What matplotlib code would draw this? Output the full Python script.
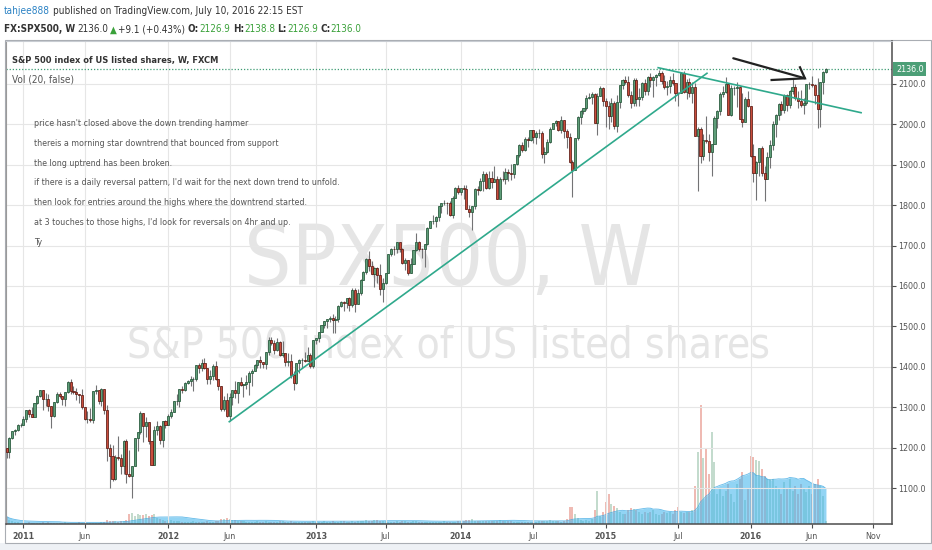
"""TradingView style weekly SPX500 chart: candles, volume, trend lines and notes."""

import numpy as np
import pandas as pd
import matplotlib
matplotlib.use('Agg')
import matplotlib.pyplot as plt
from matplotlib import font_manager
from matplotlib.patches import Rectangle

# ---------------------------------------------------------------------------
# Data: weekly bars of FX:SPX500 (FXCM), first bar = week ending 2010-11-26
# open of each bar = close of the previous bar
# ---------------------------------------------------------------------------
first_week = '2010-11-26'
first_open = 1199.7

closes_2010 = [1189.4, 1224.7, 1240.4, 1243.9, 1256.8, 1257.6]
highs_2010 = [1200, 1227, 1241, 1246, 1259, 1262]
lows_2010 = [1176, 1174, 1222, 1232, 1241, 1251]

closes_2011 = [1271.5, 1293.2, 1283.4, 1276.3, 1310.9, 1329.2, 1343.0, 1319.9, 1321.2, 1304.3,
               1279.2, 1313.8, 1332.4, 1328.2, 1319.7, 1337.4, 1363.6, 1340.2, 1337.8, 1333.3,
               1331.1, 1300.2, 1271.0, 1271.5, 1268.5, 1339.7, 1343.8, 1316.1, 1345.0, 1292.3,
               1199.4, 1178.8, 1123.5, 1176.8, 1174.0, 1154.2, 1216.0, 1136.4, 1131.4, 1155.5,
               1224.6, 1238.3, 1285.1, 1253.2, 1263.9, 1215.7, 1158.7, 1244.3, 1255.2, 1219.7,
               1265.3, 1257.6]
highs_2011 = [1278, 1294, 1297, 1302, 1311, 1330, 1344, 1342, 1336, 1332,
              1303, 1314, 1337, 1339, 1329, 1338, 1364, 1370, 1352, 1347,
              1334, 1346, 1302, 1292, 1298, 1341, 1356, 1343, 1347, 1345,
              1307, 1209, 1208, 1183, 1230, 1184, 1220, 1221, 1195, 1156,
              1225, 1238, 1292, 1285, 1277, 1264, 1215, 1255, 1267, 1256,
              1266, 1270]
lows_2011 = [1257, 1265, 1277, 1275, 1276, 1309, 1326, 1294, 1303, 1292,
             1249, 1277, 1312, 1322, 1306, 1303, 1336, 1332, 1333, 1318,
             1311, 1297, 1268, 1262, 1265, 1262, 1334, 1309, 1303, 1283,
             1168, 1101, 1117, 1121, 1170, 1136, 1136, 1114, 1127, 1075,
             1156, 1192, 1234, 1215, 1226, 1209, 1158, 1158, 1231, 1209,
             1202, 1248]

closes_2012 = [1277.8, 1289.1, 1315.4, 1316.3, 1344.9, 1342.6, 1361.2, 1365.7, 1369.6, 1370.9,
               1404.2, 1397.1, 1408.5, 1398.1, 1370.3, 1378.5, 1403.4, 1369.1, 1353.4, 1295.2,
               1317.8, 1278.0, 1325.7, 1342.8, 1335.0, 1362.2, 1354.7, 1356.8, 1362.7, 1386.0,
               1391.0, 1405.9, 1418.2, 1411.1, 1406.6, 1437.9, 1465.8, 1460.2, 1440.7, 1460.9,
               1428.6, 1433.2, 1411.9, 1414.2, 1379.9, 1359.9, 1409.2, 1416.2, 1418.1, 1413.6,
               1430.2, 1402.4]
highs_2012 = [1284, 1297, 1316, 1334, 1346, 1354, 1362, 1368, 1378, 1374,
              1405, 1409, 1419, 1422, 1398, 1392, 1406, 1415, 1369, 1354,
              1328, 1335, 1335, 1344, 1364, 1363, 1375, 1357, 1381, 1390,
              1394, 1407, 1418, 1426, 1413, 1438, 1475, 1474, 1467, 1471,
              1465, 1464, 1434, 1434, 1433, 1391, 1410, 1419, 1423, 1438,
              1448, 1434]
lows_2012 = [1259, 1274, 1290, 1307, 1300, 1335, 1341, 1358, 1354, 1340,
             1366, 1386, 1391, 1394, 1357, 1358, 1367, 1367, 1344, 1292,
             1291, 1277, 1267, 1307, 1324, 1310, 1352, 1325, 1346, 1330,
             1354, 1391, 1397, 1398, 1397, 1396, 1429, 1454, 1431, 1439,
             1426, 1425, 1403, 1403, 1373, 1343, 1359, 1385, 1398, 1411,
             1416, 1398]

closes_2013 = [1466.5, 1472.1, 1486.0, 1503.0, 1513.2, 1517.9, 1519.8, 1515.6, 1518.2, 1551.2,
               1560.7, 1556.9, 1569.2, 1553.3, 1588.9, 1555.3, 1582.2, 1614.4, 1633.7, 1667.5,
               1649.6, 1630.7, 1643.4, 1626.7, 1592.4, 1606.3, 1631.9, 1680.2, 1692.1, 1691.7,
               1709.7, 1691.4, 1655.8, 1663.5, 1633.0, 1655.2, 1688.0, 1709.9, 1691.8, 1690.5,
               1703.2, 1744.5, 1759.8, 1761.6, 1770.6, 1798.2, 1804.8, 1805.8, 1805.1, 1775.3,
               1818.3, 1841.4]
highs_2013 = [1467, 1472, 1486, 1503, 1514, 1518, 1525, 1531, 1526, 1553,
              1564, 1564, 1570, 1573, 1594, 1594, 1592, 1618, 1636, 1668,
              1687, 1661, 1647, 1646, 1654, 1620, 1633, 1680, 1693, 1698,
              1709, 1708, 1695, 1669, 1664, 1670, 1689, 1730, 1710, 1695,
              1704, 1745, 1760, 1775, 1772, 1798, 1805, 1813, 1808, 1811,
              1823, 1844]
lows_2013 = [1398, 1456, 1461, 1486, 1495, 1495, 1510, 1485, 1485, 1512,
             1548, 1538, 1546, 1539, 1548, 1536, 1555, 1577, 1614, 1630,
             1636, 1630, 1598, 1608, 1577, 1560, 1604, 1632, 1673, 1676,
             1682, 1684, 1654, 1640, 1627, 1633, 1656, 1687, 1687, 1670,
             1646, 1702, 1743, 1752, 1746, 1760, 1780, 1800, 1779, 1772,
             1767, 1818]

closes_2014 = [1831.4, 1842.4, 1838.7, 1790.3, 1782.6, 1797.0, 1838.6, 1836.3, 1859.5, 1878.0,
               1841.1, 1866.5, 1857.6, 1865.1, 1815.7, 1864.9, 1863.4, 1881.1, 1878.5, 1877.9,
               1900.5, 1923.6, 1949.4, 1936.2, 1962.9, 1961.0, 1985.4, 1967.6, 1978.2, 1978.3,
               1925.2, 1931.6, 1955.1, 1988.4, 2003.4, 2007.7, 1985.5, 2010.4, 1982.9, 1967.9,
               1906.1, 1886.8, 1964.6, 2018.1, 2031.9, 2039.8, 2063.5, 2067.6, 2075.4, 2002.3,
               2070.7, 2088.8]
highs_2014 = [1849, 1843, 1850, 1850, 1799, 1798, 1841, 1847, 1868, 1883,
              1882, 1883, 1884, 1897, 1873, 1869, 1884, 1891, 1889, 1902,
              1901, 1924, 1950, 1955, 1968, 1968, 1985, 1985, 1984, 1989,
              1984, 1943, 1964, 1993, 2004, 2011, 2008, 2019, 2011, 1987,
              1977, 1912, 1966, 2019, 2034, 2041, 2072, 2076, 2079, 2076,
              2077, 2094]
lows_2014 = [1828, 1824, 1815, 1790, 1770, 1738, 1791, 1824, 1834, 1834,
             1840, 1839, 1842, 1859, 1814, 1816, 1859, 1851, 1859, 1862,
             1868, 1900, 1919, 1930, 1934, 1944, 1958, 1953, 1952, 1966,
             1916, 1905, 1929, 1954, 1988, 1995, 1983, 1979, 1965, 1941,
             1905, 1821, 1886, 1961, 2001, 2025, 2034, 2062, 2049, 2002,
             1973, 2069]

closes_2015 = [2058.2, 2044.8, 2019.4, 2051.8, 1995.0, 2055.5, 2097.0, 2110.3, 2104.5, 2071.3,
               2053.4, 2108.1, 2061.0, 2067.0, 2102.1, 2081.2, 2117.7, 2108.3, 2116.1, 2122.7,
               2126.1, 2107.4, 2092.8, 2094.1, 2110.0, 2101.5, 2076.8, 2076.6, 2126.6, 2079.7,
               2103.8, 2077.6, 2091.5, 1970.9, 1988.9, 1921.2, 1961.1, 1958.0, 1931.3, 1951.4,
               2014.9, 2033.1, 2075.2, 2079.4, 2099.2, 2023.0, 2089.2, 2090.1, 2091.7, 2012.4,
               2005.6, 2061.0, 2043.9]
highs_2015 = [2093, 2064, 2056, 2065, 2058, 2072, 2097, 2111, 2120, 2118,
              2083, 2114, 2114, 2089, 2103, 2111, 2120, 2126, 2120, 2124,
              2134, 2132, 2122, 2107, 2120, 2127, 2102, 2079, 2128, 2132,
              2112, 2113, 2103, 2102, 1993, 1993, 1975, 2021, 1975, 1952,
              2020, 2034, 2080, 2094, 2116, 2101, 2097, 2095, 2104, 2094,
              2076, 2067, 2082]
lows_2015 = [2046, 1992, 1988, 2005, 1989, 1981, 2041, 2086, 2100, 2067,
             2039, 2046, 2046, 2045, 2060, 2073, 2073, 2092, 2067, 2095,
             2120, 2099, 2086, 2072, 2078, 2096, 2056, 2044, 2076, 2077,
             2063, 2068, 2052, 1970, 1835, 1903, 1911, 1953, 1909, 1872,
             1951, 1990, 2023, 2067, 2076, 2022, 2019, 2071, 2042, 2012,
             1994, 2005, 2043]

closes_2016 = [1922.0, 1880.3, 1906.9, 1940.2, 1880.1, 1864.8, 1917.8, 1948.1, 2000.0, 2022.2,
               2049.6, 2035.9, 2072.8, 2047.6, 2080.7, 2091.6, 2065.3, 2057.1, 2046.6, 2052.3,
               2099.1, 2099.1, 2096.1, 2071.2, 2037.4, 2103.0, 2129.9, 2136.0]
highs_2016 = [2038, 1950, 1908, 1940, 1947, 1896, 1930, 1962, 2009, 2024,
              2053, 2056, 2075, 2075, 2084, 2112, 2099, 2083, 2084, 2064,
              2100, 2104, 2120, 2100, 2113, 2104, 2132, 2138.8]
lows_2016 = [1918, 1858, 1812, 1872, 1872, 1810, 1865, 1891, 1937, 1969,
             2010, 2022, 2028, 2033, 2039, 2075, 2059, 2040, 2043, 2025,
             2047, 2088, 2093, 2050, 1991, 1992, 2075, 2126.9]

# tick volume (thousands)
vol_2010 = [7, 4, 3, 2, 1.5, 1]
vol_2011 = [1, 1, 1.5, 1, 1, 1, 1, 1.5, 1, 2, 1, 1, 1, 1, 1, 1.5, 1, 1, 1, 1,
            1.5, 1, 1, 1, 1, 1, 1, 1, 1.5, 2, 4, 3, 3, 2.5, 2, 3, 3, 4,
            10, 11, 8, 10, 9, 9, 10, 8, 9, 10, 6, 5, 4, 3]
vol_2012 = [4, 4, 3, 3, 3, 2, 2, 2, 2, 3, 2, 2, 2, 2, 3, 2, 2, 3, 3, 5,
            5, 6, 5, 4, 4, 3, 3, 3, 2, 2, 2, 2, 3, 2, 2, 3, 2, 2, 2, 2,
            3, 3, 2, 2, 3, 2, 2, 2, 2, 2, 2, 2]
vol_2013 = [3, 2, 2, 2, 3, 2, 2, 3, 2, 2, 3, 3, 2, 2, 3, 2, 3, 3, 3, 4,
            3, 3, 4, 4, 3, 3, 3, 2, 2, 2, 3, 2, 3, 3, 2, 2, 3, 3, 2, 2,
            2, 2, 2, 2, 2, 2, 2, 3, 2, 2, 2, 2]
vol_2014 = [3, 3, 3, 4, 4, 5, 3, 3, 3, 3, 3, 3, 3, 3, 3, 4, 3, 3, 3, 3,
            2, 2, 2, 2, 2, 2, 2, 2, 2, 3, 3, 3, 3, 4, 3, 3, 3, 2, 3,
            5, 17, 17, 10, 6, 4, 3, 4, 3, 5, 14, 33, 8]
vol_2015 = [12, 22, 30, 20, 18, 16, 12, 10, 10, 14, 16, 15, 14, 12, 10, 12, 11, 12, 14, 10,
            9, 10, 12, 11, 12, 10, 14, 17, 12, 11, 12, 12, 14, 38, 72, 119, 66, 76, 50, 92,
            62, 30, 36, 28, 33, 40, 30, 22, 40, 45, 52, 24, 35]
vol_2016 = [68, 67, 64, 63, 55, 48, 45, 45, 45, 38, 35, 30, 42, 36, 45, 33, 38, 30, 40, 36,
            32, 38, 30, 40, 45, 38, 28, 3]

# user drawings (bar index, price)
uptrend_x, uptrend_y = [79.9, 251.3], [1264.6, 2125.7]
downtrend_x, downtrend_y = [233.8, 306.6], [2139.5, 2028.3]
arrow_x, arrow_y = [260.75, 286.46], [2162.8, 2113.3]
arrowhead_x, arrowhead_y = [274.5, 286.46, 284.67], [2109.1, 2113.3, 2140.5]

tick_months = ['2011-01', '2011-06', '2012-01', '2012-06', '2013-01', '2013-07', '2014-01',
               '2014-07', '2015-01', '2015-07', '2016-01', '2016-06', '2016-11']
tick_labels = ['2011', 'Jun', '2012', 'Jun', '2013', 'Jul', '2014', 'Jul', '2015', 'Jul',
               '2016', 'Jun', 'Nov']
price_ticks = [1100, 1200, 1300, 1400, 1500, 1600, 1700, 1800, 1900, 2000, 2100]

notes = ["price hasn't closed above the down trending hammer",
         "thereis a morning star downtrend that bounced from support",
         "the long uptrend has been broken.",
         "if there is a daily reversal pattern, I'd wait for the next down trend to unfold.",
         "then look for entries around the highs where the downtrend started.",
         "at 3 touches to those highs, I'd look for reversals on 4hr and up.",
         "Ty"]

closes = np.array(closes_2010 + closes_2011 + closes_2012 + closes_2013 + closes_2014 + closes_2015 + closes_2016)
highs = np.array(highs_2010 + highs_2011 + highs_2012 + highs_2013 + highs_2014 + highs_2015 + highs_2016, dtype=float)
lows = np.array(lows_2010 + lows_2011 + lows_2012 + lows_2013 + lows_2014 + lows_2015 + lows_2016, dtype=float)
volume = np.array(vol_2010 + vol_2011 + vol_2012 + vol_2013 + vol_2014 + vol_2015 + vol_2016, dtype=float)
n = len(closes)
assert len(highs) == n and len(lows) == n and len(volume) == n, (n, len(highs), len(lows), len(volume))

opens = np.concatenate([[first_open], closes[:-1]])
highs = np.maximum(highs, np.maximum(opens, closes))
lows = np.minimum(lows, np.minimum(opens, closes))
up = closes >= opens
x = np.arange(n)
vol_ma = pd.Series(volume).rolling(20, min_periods=1).mean().values

# x ticks: first weekly bar whose week starts in the labelled month
dates = pd.date_range(first_week, periods=330, freq='W-FRI')
week_month = (dates - pd.Timedelta(days=4)).strftime('%Y-%m')
tick_pos = [int(np.argmax(np.asarray(week_month) == m)) for m in tick_months]

# ---------------------------------------------------------------------------
# the screenshot uses a narrow UI font; take a condensed face if one exists
ttf = font_manager.fontManager.ttflist
if any(f.name == 'Liberation Sans Narrow' for f in ttf):
    FONTS = ['Liberation Sans Narrow', 'DejaVu Sans']
elif any(f.name == 'DejaVu Sans' and str(f.stretch) in ('condensed', 'semi-condensed') for f in ttf):
    FONTS = ['DejaVu Sans']
    plt.rcParams['font.stretch'] = 'condensed'
else:
    FONTS = ['Liberation Sans', 'DejaVu Sans']
plt.rcParams['font.family'] = FONTS

W, H = 932, 550
PL, PR, PT, PB = 5.5, 892, 41, 523.5

fig = plt.figure(figsize=(W / 100, H / 100), dpi=100)
fig.patch.set_facecolor('white')
renderer = fig.canvas.get_renderer()

# page background below the chart + chart frame
fig.add_artist(Rectangle((0, 0), 1, 1 - 543 / H, transform=fig.transFigure,
                         facecolor='#eef1f5', edgecolor='none', zorder=-2))
fig.add_artist(Rectangle((5 / W, 1 - 543 / H), 926 / W, 503 / H, transform=fig.transFigure,
                         facecolor='white', edgecolor='#a9adb3', lw=0.8, zorder=-1))

rect = [PL / W, 1 - PB / H, (PR - PL) / W, (PB - PT) / H]
ax_v = fig.add_axes(rect)
ax = fig.add_axes(rect, sharex=ax_v)
ax.patch.set_visible(False)


def fit_size(s, width, weight='normal'):
    t = fig.text(0, 0, s, fontsize=10, fontweight=weight)
    w = t.get_window_extent(renderer).width
    t.remove()
    return 10 * width / w


def put(xp, yp, s, size, color, weight='normal', ha='left', **kw):
    return fig.text(xp / W, 1 - yp / H, s, fontsize=size, color=color, fontweight=weight,
                    ha=ha, va='center', **kw)


def run(xp, yp, pieces, width):
    # pieces: (text, colour, weight, spaces before)
    size = 10
    for attempt in range(2):
        cx, drawn = xp, []
        for s, c, wt, gap in pieces:
            cx += gap * 0.27 * size * 100 / 72
            t = put(cx, yp, s, size, c, wt)
            cx = t.get_window_extent(renderer).x1
            drawn.append(t)
        if attempt == 0:
            for t in drawn:
                t.remove()
            size *= width / (cx - xp)
    return drawn


# ---- volume pane (drawn underneath) ----
ax_v.set_facecolor('white')
for s in ax_v.spines.values():
    s.set_visible(False)
ax_v.tick_params(left=False, bottom=False, labelleft=False, labelbottom=False)

# watermark
wm1 = 'SPX500, W'
wm2 = 'S&P 500 index of US listed shares'
ax_v.text(448.5 / W, 1 - 285 / H, wm1, transform=fig.transFigure, ha='center', va='baseline',
          fontsize=fit_size(wm1, 410), color='#e5e5e5', zorder=0.5)
ax_v.text(448.5 / W, 1 - 357 / H, wm2, transform=fig.transFigure, ha='center', va='baseline',
          fontsize=fit_size(wm2, 645), color='#e5e5e5', zorder=0.5)

vol_colors = np.where(up, '#6ba583', '#d75442')
ax_v.bar(x, volume, width=0.72, color=vol_colors, alpha=0.4, lw=0, zorder=1)
ax_v.fill_between(x, 0, vol_ma, color='#49b8ee', alpha=0.6, lw=0, zorder=2)
ax_v.plot(x, vol_ma, color='#3ea9e3', lw=0.6, alpha=0.8, zorder=2)
ax_v.set_ylim(0, volume.max() * 4.06)
ax_v.set_xlim(-0.4, 317.7)

# ---- price pane ----
ax.set_ylim(1013, 2205.5)
ax.set_axisbelow(True)
ax.grid(True, color='#e6e6e6', lw=0.8)

ax.vlines(x, lows, highs, color='#737375', lw=0.8, zorder=3)
body_lo = np.minimum(opens, closes)
body_h = np.maximum(np.abs(closes - opens), 0.8)
ax.bar(x[up], body_h[up], bottom=body_lo[up], width=0.75, color='#5f9e79',
       edgecolor='#225437', lw=0.55, zorder=4)
ax.bar(x[~up], body_h[~up], bottom=body_lo[~up], width=0.75, color='#c94c3b',
       edgecolor='#5b1a13', lw=0.55, zorder=4)

# drawings
ax.plot(uptrend_x, uptrend_y, color='#2fa98c', lw=1.2, zorder=5)
ax.plot(downtrend_x, downtrend_y, color='#2fa98c', lw=1.2, zorder=5)
ax.plot(arrow_x, arrow_y, color='#222222', lw=1.6, zorder=5, solid_capstyle='round')
ax.plot(arrowhead_x, arrowhead_y, color='#222222', lw=1.6, zorder=5, solid_joinstyle='miter')

# last price line and label
ax.axhline(closes[-1], color='#3f9c74', lw=0.9, ls=(0, (1, 1.5)), zorder=2)

# axes styling
ax.spines['left'].set_color('#9a9a9a')
ax.spines['top'].set_color('#c8ccd2')
ax.spines['right'].set_color('#4d4d4d')
ax.spines['bottom'].set_color('#4d4d4d')
ax.spines['right'].set_linewidth(1.1)
ax.spines['bottom'].set_linewidth(1.1)

tick_size = fit_size('2100.0', 28)
ax.yaxis.tick_right()
ax.set_yticks(price_ticks)
ax.set_yticklabels([f'{p:.1f}' for p in price_ticks])
ax.tick_params(axis='y', length=3, width=0.8, pad=1.5, colors='#4d4d4d', labelsize=tick_size,
               labelcolor='#555555')
ax.set_xticks(tick_pos)
ax.set_xticklabels(tick_labels)
ax.tick_params(axis='x', length=3, width=0.8, pad=3, colors='#4d4d4d', labelsize=tick_size,
               labelcolor='#555555')
for lbl in ax.get_xticklabels():
    if lbl.get_text().isdigit():
        lbl.set_fontweight('bold')

ax.text(1 + 4 / (PR - PL), closes[-1], f'{closes[-1]:.1f}', transform=ax.get_yaxis_transform(),
        ha='left', va='center', fontsize=tick_size, color='white', zorder=10,
        bbox=dict(boxstyle='square,pad=0.3', facecolor='#4c9f77', edgecolor='none'))

# ---- header ----
dark = '#333333'
green = '#3aa13a'
run(4, 11.5, [('tahjee888', '#2b82c4', 'normal', 0),
              ('published on TradingView.com, July 10, 2016 22:15 EST', dark, 'normal', 1)], 300)
run(4, 29.5, [('FX:SPX500, W', dark, 'bold', 0), ('2136.0', dark, 'normal', 1),
              ('\u25b2', green, 'normal', 0.6), ('+9.1 (+0.43%)', dark, 'normal', 0.4),
              ('O:', dark, 'bold', 1), ('2126.9', green, 'normal', 0),
              ('H:', dark, 'bold', 1), ('2138.8', green, 'normal', 0),
              ('L:', dark, 'bold', 1), ('2126.9', green, 'normal', 0),
              ('C:', dark, 'bold', 1), ('2136.0', green, 'normal', 0)], 358)

# pane title and indicator label
title = 'S&P 500 index of US listed shares, W, FXCM'
put(12, 60.5, title, fit_size(title, 206, 'bold'), dark, 'bold')
put(12, 79, 'Vol (20, false)', fit_size('Vol (20, false)', 62), '#555555')

# text notes
note_size = fit_size(notes[3], 305)
note_y = [123.3, 143.3, 163.3, 182.7, 202.7, 222.7, 242.7]
for s, yy in zip(notes, note_y):
    put(34, yy, s, note_size, '#555555')

fig.savefig('out.png', dpi=100, facecolor=fig.get_facecolor())
